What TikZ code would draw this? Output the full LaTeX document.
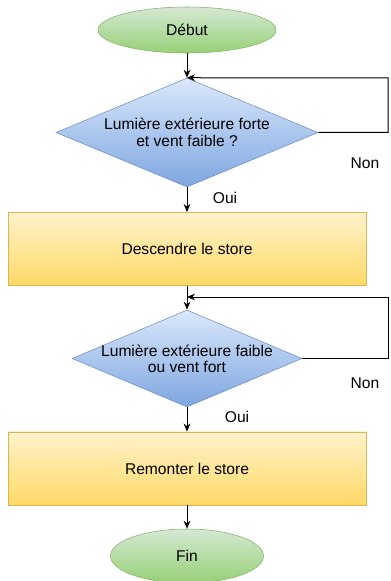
\documentclass[tikz,border=0pt]{standalone}
\usepackage{fontspec}
\setmainfont{Liberation Sans}
\usepackage{tikz}
\usetikzlibrary{shapes.geometric,arrows.meta}

\definecolor{vertclair}{HTML}{D5E8D4}
\definecolor{vertfonce}{HTML}{97D077}
\definecolor{vertbord}{HTML}{82B366}
\definecolor{bleuclair}{HTML}{DAE8FC}
\definecolor{bleufonce}{HTML}{7EA6E0}
\definecolor{bleubord}{HTML}{6C8EBF}
\definecolor{jauneclair}{HTML}{FFF2CC}
\definecolor{jaunefonce}{HTML}{FFD966}
\definecolor{jaunebord}{HTML}{D6B656}

\tikzset{
  terminal/.style={ellipse, draw=vertbord, top color=vertclair, bottom color=vertfonce,
    minimum width=133.5pt, minimum height=34.5pt, inner sep=0pt},
  test/.style={diamond, draw=bleubord, top color=bleuclair, bottom color=bleufonce,
    inner sep=0pt, aspect=2.4},
  action/.style={rectangle, draw=jaunebord, top color=jauneclair, bottom color=jaunefonce,
    minimum width=268.5pt, minimum height=55pt, inner sep=0pt},
  fleche/.style={-{Stealth[length=6pt,width=5pt]}, line width=0.75pt},
  lien/.style={line width=0.75pt}
}

\begin{document}
\begin{tikzpicture}[x=0.75pt, y=-0.75pt, font=\fontsize{11.7}{13}\selectfont]
      \useasboundingbox (0,0) rectangle (390,581);

      \node[terminal] (debut) at (187,30) {Début};
      \node[test, minimum width=196.5pt, minimum height=81.75pt,
        label={[align=center, font=\fontsize{11.7}{13}\selectfont]center:Lumière extérieure forte\\et vent faible ?}] (test1) at (187,132.5) {};
      \node[action] (descendre) at (187,249) {Descendre le store};
      \node[test, minimum width=172.5pt, minimum height=72.75pt,
        label={[align=center, font=\fontsize{11.7}{12.2}\selectfont]center:Lumière extérieure faible\\ou vent fort}] (test2) at (187,358.5) {};
      \node[action] (remonter) at (187,468.5) {Remonter le store};
      \node[terminal, minimum width=114.75pt, minimum height=40.5pt] (fin) at (187,556) {Fin};

      \draw[fleche] (debut) -- (test1);
      \draw[fleche] (test1) -- (descendre) node at (225,198) {Oui};
      \draw[fleche] (descendre) -- (test2);
      \draw[fleche] (test2) -- (remonter) node at (237,417) {Oui};
      \draw[fleche] (remonter) -- (fin);

      % boucles "Non"
      \coordinate (coin1) at (388,78);
      \draw[fleche] (test1.east) -| (coin1) -- (test1.north);
      \node at (365,163) {Non};

      \coordinate (coin2) at (388,297);
      \coordinate (retour2) at (187,297);
      \draw[fleche] (test2.east) -| (coin2) -- (retour2);
      \node at (365,383) {Non};
    \end{tikzpicture}
\end{document}
